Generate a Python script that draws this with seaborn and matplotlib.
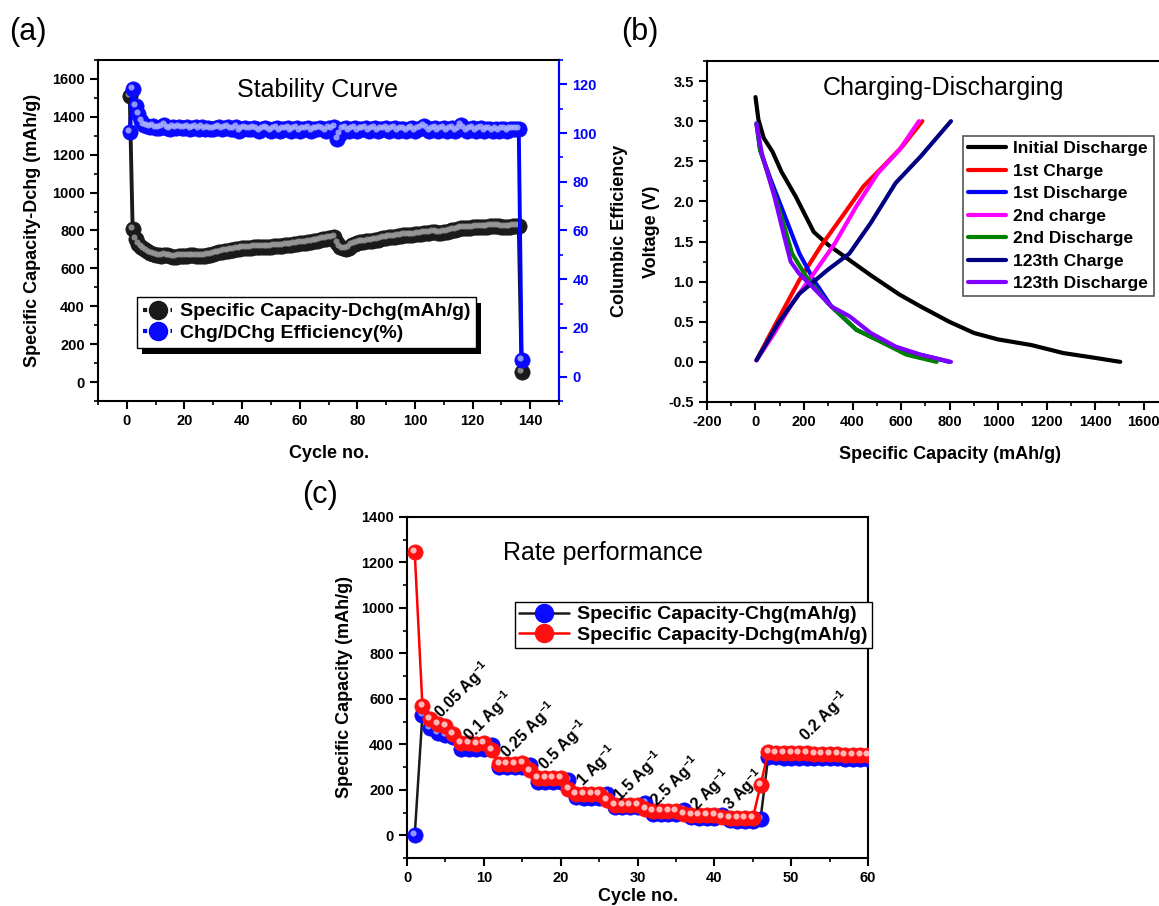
import numpy as np
import pandas as pd
import matplotlib
matplotlib.use('Agg')
import matplotlib.pyplot as plt
import matplotlib.transforms as mtransforms
from matplotlib.lines import Line2D
from matplotlib.patches import Rectangle
from matplotlib.ticker import MultipleLocator
import seaborn as sns

sns.set_theme(style='ticks', rc={'text.color': 'black', 'axes.labelcolor': 'black',
                                 'xtick.color': 'black', 'ytick.color': 'black',
                                 'axes.edgecolor': 'black'})
plt.rcParams['font.family'] = ['Liberation Sans', 'DejaVu Sans']
plt.rcParams['font.weight'] = 'bold'
plt.rcParams['axes.labelweight'] = 'bold'
plt.rcParams['axes.unicode_minus'] = False
plt.rcParams['mathtext.fontset'] = 'custom'
plt.rcParams['mathtext.bf'] = 'Liberation Sans:bold'
plt.rcParams['mathtext.rm'] = 'Liberation Sans'

# ---- (a) stability curve, cycles 1..137
capacity_dchg = [1510, 810, 755, 730, 712, 700, 690, 683, 677, 672,
                 668, 666, 672, 668, 664, 662, 662, 663, 664, 665,
                 667, 668, 668, 667, 666, 664, 666, 669, 672, 676,
                 680, 684, 688, 691, 693, 695, 697, 700, 703, 706,
                 708, 709, 710, 711, 711, 712, 713, 714, 714, 715,
                 716, 718, 719, 720, 722, 724, 726, 728, 730, 732,
                 734, 736, 738, 741, 744, 747, 750, 753, 756, 758,
                 760, 765, 735, 715, 705, 700, 710, 722, 730, 735,
                 738, 740, 742, 744, 746, 749, 752, 755, 758, 761,
                 764, 766, 768, 770, 772, 774, 776, 777, 778, 779,
                 781, 783, 785, 787, 789, 790, 790, 789, 788, 790,
                 793, 797, 801, 805, 809, 812, 813, 814, 815, 816,
                 817, 818, 819, 820, 821, 822, 823, 823, 822, 821,
                 820, 819, 820, 822, 824, 825, 55]
efficiency = [100.5, 118, 111, 108, 105, 103.5, 103, 102.5, 103, 102,
              102, 102.5, 103.5, 102, 101.5, 102.5, 102, 102.5, 102, 102,
              102.5, 101.5, 102, 102.5, 101.5, 102.5, 101.5, 102, 101.5, 101.5,
              102, 102.5, 101.5, 102, 102.5, 101.5, 101.5, 102.5, 101, 101.5,
              102, 101.5, 101.5, 102, 101.5, 101, 101.5, 102, 101.5, 101,
              101.5, 102, 101, 101.5, 101.5, 102, 101, 101.5, 102, 101,
              101.5, 101.5, 102, 101, 101.5, 101.5, 102, 101.5, 101, 102,
              101.5, 102.5, 97.5, 99.5, 101.5, 102, 101, 101.5, 102, 101,
              101.5, 101.5, 102, 101, 101.5, 102, 101, 101.5, 101.5, 102,
              101, 101.5, 102, 101, 101.5, 101.5, 101, 101.5, 102, 101,
              101.5, 102, 103, 102, 101, 101.5, 102, 101, 101.5, 102,
              101, 101.5, 102, 101, 101.5, 103.5, 102, 101, 101.5, 102,
              101, 101.5, 102, 101, 101.5, 101.5, 101, 101.5, 101, 101.5,
              101.5, 101, 101.5, 101.5, 101.5, 101.5, 7]

# ---- (b) charge / discharge profiles (capacity mAh/g, voltage V)
init_dis_x = [0, 12, 34, 70, 107, 166, 240, 299, 387, 475, 593, 681, 799, 901, 1000, 1137, 1269, 1400, 1504]
init_dis_v = [3.3, 3.02, 2.79, 2.62, 2.37, 2.06, 1.62, 1.46, 1.27, 1.08, 0.84, 0.69, 0.5, 0.36, 0.28, 0.21, 0.11, 0.05, 0.0]
ch1_x = [4, 63, 122, 181, 269, 357, 446, 534, 607, 688]
ch1_v = [0.02, 0.36, 0.69, 1.02, 1.44, 1.81, 2.19, 2.46, 2.69, 3.0]
dis1_x = [4, 19, 63, 122, 181, 240, 313, 416, 534, 651, 799]
dis1_v = [2.97, 2.64, 2.27, 1.81, 1.35, 1.02, 0.69, 0.4, 0.23, 0.11, 0.0]
ch2_x = [4, 78, 151, 240, 328, 416, 504, 593, 674]
ch2_v = [0.02, 0.36, 0.73, 1.1, 1.48, 1.94, 2.35, 2.64, 3.0]
dis2_x = [4, 19, 63, 107, 151, 210, 299, 416, 504, 622, 747]
dis2_v = [2.97, 2.64, 2.23, 1.81, 1.35, 1.06, 0.73, 0.4, 0.27, 0.09, 0.0]
ch123_x = [4, 93, 181, 299, 387, 475, 578, 681, 806]
ch123_v = [0.02, 0.48, 0.85, 1.15, 1.35, 1.73, 2.23, 2.56, 3.0]
dis123_x = [4, 26, 78, 122, 145, 180, 230, 313, 387, 475, 578, 681, 806]
dis123_v = [2.97, 2.6, 2.06, 1.52, 1.25, 1.1, 0.95, 0.69, 0.57, 0.36, 0.19, 0.09, 0.0]
curve_names = ['Initial Discharge', '1st Charge', '1st Discharge', '2nd charge',
               '2nd Discharge', '123th Charge', '123th Discharge']
curve_colors = ['#000000', '#ff0000', '#0000ff', '#ff00ff', '#008000', '#000080', '#8000ff']

# ---- (c) rate performance, cycles 1..60
rate_chg = [0, 530, 470, 450, 440, 430, 380, 378, 378, 378,
            395, 300, 298, 298, 298, 310, 235, 233, 233, 233,
            245, 168, 166, 166, 166, 180, 125, 123, 123, 123,
            140, 95, 93, 93, 93, 110, 80, 78, 78, 78,
            90, 65, 63, 63, 63, 70, 345, 342, 341, 340,
            340, 340, 339, 339, 338, 338, 337, 337, 336, 336]
rate_dchg = [1245, 570, 510, 490, 480, 445, 405, 405, 400, 405,
             375, 315, 315, 315, 318, 285, 250, 250, 250, 252,
             205, 180, 180, 180, 180, 155, 135, 135, 135, 135,
             115, 105, 105, 105, 105, 95, 90, 90, 90, 90,
             80, 75, 75, 75, 75, 220, 365, 362, 360, 360,
             360, 360, 359, 358, 358, 356, 355, 354, 354, 352]
rate_labels = ['0.05', '0.1', '0.25', '0.5', '1', '1.5', '2.5', '2', '3', '0.2']
rate_label_x = [7.2, 10.6, 15.8, 20.3, 24.7, 30.1, 34.9, 39.5, 43.8, 54.3]
rate_label_y = [640, 522, 464, 398, 303, 259, 237, 200, 200, 522]


def style_axis(ax, xmaj, xmin, ymaj, ymin):
    ax.xaxis.set_major_locator(MultipleLocator(xmaj))
    ax.xaxis.set_minor_locator(MultipleLocator(xmin))
    ax.yaxis.set_major_locator(MultipleLocator(ymaj))
    ax.yaxis.set_minor_locator(MultipleLocator(ymin))
    ax.tick_params(which='major', direction='out', length=6, width=1.5, labelsize=10.5,
                   top=False, right=False)
    ax.tick_params(which='minor', direction='out', length=3, width=1.2, top=False, right=False)
    for s in ax.spines.values():
        s.set_linewidth(1.5)
        s.set_visible(True)


def balls(ax, x, y, color, shine, size, z):
    ax.plot(x, y, ls='none', marker='o', ms=size, mfc=color, mec=color, mew=0.5, zorder=z)
    off = mtransforms.offset_copy(ax.transData, fig=ax.figure, x=-1.2, y=1.4, units='points')
    ax.plot(x, y, ls='none', marker='o', ms=size * 0.4, mfc=shine, mec='none', alpha=0.85,
            transform=off, zorder=z + 0.1)


fig = plt.figure(figsize=(11.59, 9.06), dpi=100)
ax_a = fig.add_axes([0.0846, 0.5574, 0.3978, 0.3764])
ax_b = fig.add_axes([0.610, 0.5563, 0.4185, 0.3764])
ax_c = fig.add_axes([0.3512, 0.053, 0.3978, 0.3764])

# ---------------- (a)
df_a = pd.DataFrame({'cycle': np.arange(1, len(capacity_dchg) + 1), 'cap': capacity_dchg})
df_e = pd.DataFrame({'cycle': np.arange(1, len(efficiency) + 1), 'eff': efficiency})
sns.lineplot(data=df_a, x='cycle', y='cap', ax=ax_a, color='k', lw=2.8, zorder=2)
balls(ax_a, df_a['cycle'], df_a['cap'], '#1a1a1a', '#9a9a9a', 11, 3)
ax_a.set_xlim(-10, 150)
ax_a.set_ylim(-100, 1700)
style_axis(ax_a, 20, 10, 200, 100)
ax_a.set_xlabel('Cycle no.', fontsize=13, labelpad=12)
ax_a.set_ylabel('Specific Capacity-Dchg (mAh/g)', fontsize=13, labelpad=8)

ax2 = ax_a.twinx()
sns.lineplot(data=df_e, x='cycle', y='eff', ax=ax2, color='#0000ff', lw=2.8, zorder=2)
balls(ax2, df_e['cycle'], df_e['eff'], '#0a0aff', '#a8b0ff', 11, 3)
ax2.set_ylim(-10, 130)
ax2.yaxis.set_major_locator(MultipleLocator(20))
ax2.yaxis.set_minor_locator(MultipleLocator(10))
ax2.tick_params(axis='y', which='major', direction='out', length=6, width=1.5, labelsize=10.5,
                colors='#0000ff')
ax2.tick_params(axis='y', which='minor', direction='out', length=3, width=1.2, colors='#0000ff')
ax2.spines['right'].set_color('#0000ff')
ax2.spines['right'].set_linewidth(1.5)
ax2.set_ylabel('Columbic Efficiency', fontsize=13, labelpad=10, color='black')
ax2.text(0.477, 0.912, 'Stability Curve', transform=ax2.transAxes, ha='center', va='center',
         fontsize=18, fontweight='normal')

h1 = Line2D([], [], color='k', lw=3, ls=(0, (1, 1.2)), marker='o', ms=13, mfc='#1a1a1a', mec='k')
h2 = Line2D([], [], color='#0000ff', lw=3, ls=(0, (1, 1.2)), marker='o', ms=13, mfc='#0a0aff',
            mec='#0000ff')
leg = ax2.legend([h1, h2], ['Specific Capacity-Dchg(mAh/g)', 'Chg/DChg Efficiency(%)'],
                 loc='upper left', bbox_to_anchor=(0.085, 0.305), fontsize=14, handlelength=1.5,
                 frameon=True, fancybox=False, edgecolor='black', borderaxespad=0,
                 framealpha=1, labelspacing=0.2, handletextpad=0.4, borderpad=0.3)
leg.get_frame().set_linewidth(1)
leg.set_zorder(10)

# ---------------- (b)
curves_x = [init_dis_x, ch1_x, dis1_x, ch2_x, dis2_x, ch123_x, dis123_x]
curves_v = [init_dis_v, ch1_v, dis1_v, ch2_v, dis2_v, ch123_v, dis123_v]
for name, col, xs, vs in zip(curve_names, curve_colors, curves_x, curves_v):
    sns.lineplot(x=xs, y=vs, ax=ax_b, color=col, lw=3, sort=False, label=name)
ax_b.set_xlim(-200, 1800)
ax_b.set_ylim(-0.5, 3.75)
style_axis(ax_b, 200, 100, 0.5, 0.25)
ax_b.set_xlabel('Specific Capacity (mAh/g)', fontsize=13, labelpad=12)
ax_b.set_ylabel('Voltage (V)', fontsize=13, labelpad=6)
ax_b.text(0.487, 0.92, 'Charging-Discharging', transform=ax_b.transAxes, ha='center',
          va='center', fontsize=18, fontweight='normal')
leg_b = ax_b.legend(loc='upper left', bbox_to_anchor=(0.528, 0.78), fontsize=12.5,
                    handlelength=2.2, frameon=True, fancybox=False, edgecolor='#555555',
                    borderaxespad=0, framealpha=1, labelspacing=0.42, handletextpad=0.4,
                    borderpad=0.3)
leg_b.get_frame().set_linewidth(1.2)

# ---------------- (c)
df_c = pd.DataFrame({'cycle': np.arange(1, len(rate_chg) + 1), 'chg': rate_chg, 'dchg': rate_dchg})
sns.lineplot(data=df_c, x='cycle', y='chg', ax=ax_c, color='k', lw=1.8, zorder=2)
balls(ax_c, df_c['cycle'], df_c['chg'], '#0a0aff', '#a8b0ff', 11, 3)
sns.lineplot(data=df_c, x='cycle', y='dchg', ax=ax_c, color='#ff0000', lw=1.8, zorder=4)
balls(ax_c, df_c['cycle'], df_c['dchg'], '#ff1010', '#ffd8d8', 11, 5)
ax_c.set_xlim(0, 60)
ax_c.set_ylim(-100, 1400)
style_axis(ax_c, 10, 5, 200, 100)
ax_c.set_xlabel('Cycle no.', fontsize=13, labelpad=2)
ax_c.set_ylabel('Specific Capacity (mAh/g)', fontsize=13, labelpad=6)
ax_c.text(0.425, 0.894, 'Rate performance', transform=ax_c.transAxes, ha='center',
          va='center', fontsize=18, fontweight='normal')
for lab, lx, ly in zip(rate_labels, rate_label_x, rate_label_y):
    ax_c.text(lx, ly, lab + r' Ag$^{\mathbf{-1}}$', rotation=45, ha='center', va='center',
              rotation_mode='anchor', fontsize=11.5, fontweight='bold', zorder=6)
hc1 = Line2D([], [], color='k', lw=1.8, marker='o', ms=13, mfc='#0a0aff', mec='#0a0aff')
hc2 = Line2D([], [], color='#ff0000', lw=1.8, marker='o', ms=13, mfc='#ff1010', mec='#ff1010')
leg_c = ax_c.legend([hc1, hc2], ['Specific Capacity-Chg(mAh/g)', 'Specific Capacity-Dchg(mAh/g)'],
                    loc='upper left', bbox_to_anchor=(0.234, 0.751), fontsize=14,
                    handlelength=2.6, frameon=True, fancybox=False, edgecolor='black',
                    borderaxespad=0, framealpha=1, labelspacing=0.15, handletextpad=0.4,
                    borderpad=0.2)
leg_c.get_frame().set_linewidth(1)

# panel letters
fig.text(0.024, 0.965, '(a)', fontsize=22, fontweight='normal', ha='center', va='center')
fig.text(0.552, 0.965, '(b)', fontsize=22, fontweight='normal', ha='center', va='center')
fig.text(0.276, 0.454, '(c)', fontsize=22, fontweight='normal', ha='center', va='center')

# black drop shadow behind legend (a)
fig.canvas.draw()
bb = leg.get_window_extent()
shadow = Rectangle((bb.x0 + 5, bb.y0 - 6), bb.width, bb.height, transform=None,
                   facecolor='black', edgecolor='none', zorder=9)
ax2.add_artist(shadow)

fig.savefig('out.png', dpi=100)
